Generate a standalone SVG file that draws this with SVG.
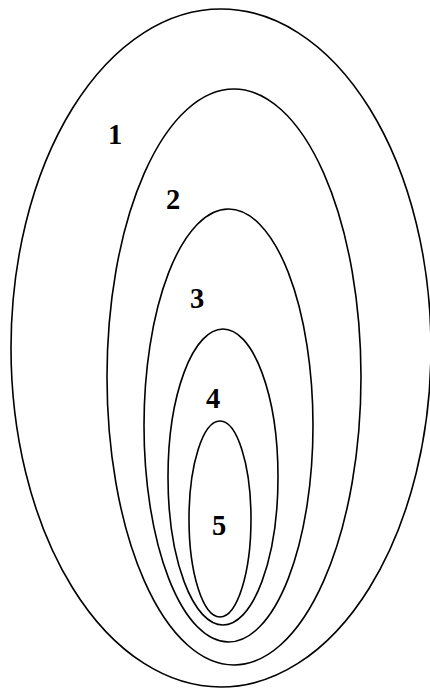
<svg xmlns="http://www.w3.org/2000/svg" width="430" height="688" viewBox="0 0 430 688">
<style>
.e{fill:none;stroke:#000;stroke-width:1.6}
.t{font-family:"Liberation Serif","Times New Roman",serif;font-weight:bold;font-size:28.5px;text-anchor:middle;fill:#000}
</style>
<rect width="430" height="688" fill="#fff"/>
<g id="n1"><ellipse class="e" cx="221" cy="348" rx="210" ry="339"/><text class="t" x="115" y="144">1</text></g>
<g id="n2"><ellipse class="e" cx="234" cy="377" rx="127" ry="288"/><text class="t" x="173" y="209">2</text></g>
<g id="n3"><ellipse class="e" cx="228.5" cy="425.5" rx="84.5" ry="216.5"/><text class="t" x="197" y="308">3</text></g>
<g id="n4"><ellipse class="e" cx="223" cy="477" rx="55" ry="148"/><text class="t" x="213" y="408">4</text></g>
<g id="n5"><ellipse class="e" cx="220" cy="519" rx="31" ry="98"/><text class="t" x="219" y="535">5</text></g>
</svg>
